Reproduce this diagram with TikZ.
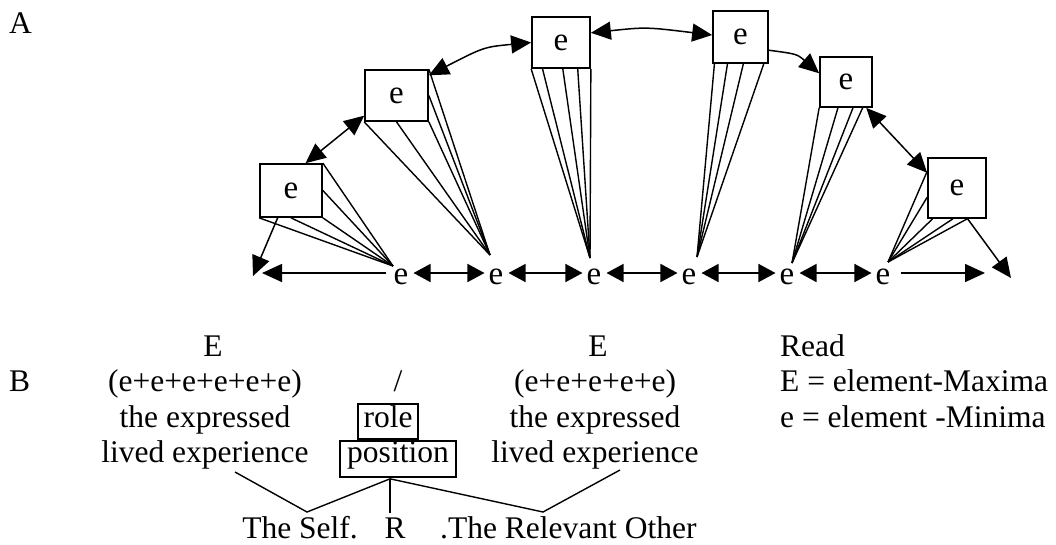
\documentclass[tikz,border=0pt]{standalone}
\usepackage{fontspec}
\setmainfont{Liberation Serif}
\usetikzlibrary{arrows.meta,calc}

\begin{document}
\begin{tikzpicture}[x=1pt,y=-1pt,
  every node/.style={font=\fontsize{31.5}{36}\selectfont, inner sep=0pt},
  txt/.style={anchor=base},
  txtl/.style={anchor=base west},
  elem/.style={anchor=base, text height=22pt, text depth=0pt, font=\fontsize{33}{36}\selectfont},
  ebox/.style={draw, line width=1.7pt, minimum width=#1, font=\fontsize{33}{36}\selectfont},
  fan/.style={line width=1.4pt},
  tip/.style={line width=1.5pt, -{Triangle[length=20pt,width=18pt]}},
  dbl/.style={line width=1.5pt, {Triangle[length=20pt,width=18pt]}-{Triangle[length=20pt,width=18pt]}},
  rowdbl/.style={line width=1.5pt, {Triangle[length=17pt,width=18pt]}-{Triangle[length=17pt,width=18pt]}}]

\useasboundingbox (0,0) rectangle (1056,544);

% part labels
\node[txtl] (labA) at (9,33) {A};
\node[txtl] (labB) at (9,391) {B};

% element-maxima boxes
\node[ebox=62pt, minimum height=53pt] (b1) at (291,190.5) {e};
\node[ebox=63pt, minimum height=51pt] (b2) at (396.5,95.5) {e};
\node[ebox=58pt, minimum height=51pt] (b3) at (561,42.5) {e};
\node[ebox=55pt, minimum height=52pt] (b4) at (740.5,37) {e};
\node[ebox=52pt, minimum height=50pt] (b5) at (846,82) {e};
\node[ebox=58pt, minimum height=60pt] (b6) at (957,188) {e};

% element-minima row
\node[elem] (e1) at (401,284) {e};
\node[elem] (e2) at (496,284) {e};
\node[elem] (e3) at (594,284) {e};
\node[elem] (e4) at (689,284) {e};
\node[elem] (e5) at (787,284) {e};
\node[elem] (e6) at (883,284) {e};

% points where the fans meet
\coordinate (f1) at (393,266);
\coordinate (f2) at (490,255);
\coordinate (f3) at (590,258);
\coordinate (f4) at (697,257);
\coordinate (f5) at (792,263);
\coordinate (f6) at (888,262);

% fans
\foreach \a in {south west, south, south east, east, north east}
  \draw[fan] (b1.\a) -- (f1);
\foreach \a in {south west, south, south east, east, north east}
  \draw[fan] (b2.\a) -- (f2);
\foreach \t in {0,.19,.53,.78,1}
  \draw[fan] ($(b3.south west)!\t!(b3.south east)$) -- (f3);
\foreach \t in {.04,.27,.55,.91}
  \draw[fan] ($(b4.south west)!\t!(b4.south east)$) -- (f4);
\foreach \t in {0,.35,.63,.81}
  \draw[fan] ($(b5.south west)!\t!(b5.south east)$) -- (f5);
\foreach \t in {.23,.65}
  \draw[fan] ($(b6.north west)!\t!(b6.south west)$) -- (f6);
\foreach \t in {.09,.43,.67}
  \draw[fan] ($(b6.south west)!\t!(b6.south east)$) -- (f6);

% arrows between the boxes
\draw[dbl] (b1.62) -- (b2.212);
\draw[dbl] (b2.32) .. controls (484,47) .. (b3.west);
\draw[dbl] (b3.18) .. controls (646,27) .. (b4.176);
\draw[tip] (b4.-25) .. controls (797,54) .. (b5.162);
\draw[dbl] (b5.-52) -- (b6.153);

% outward arrows at both ends
\coordinate (a1) at (253,276);
\coordinate (a6) at (1011,278);
\draw[tip] (b1.244) -- (a1);
\draw[tip] (b6.-71) -- (a6);

\coordinate (lend) at (262,273);
\coordinate (rend) at (985,273);
\draw[tip, shorten <=7pt] (e1.west) -- (lend);
\draw[tip, shorten <=10pt] (e6.east) -- (rend);

% arrows along the row
\foreach \i/\j in {e1/e2, e2/e3, e3/e4, e4/e5, e5/e6}
  \draw[rowdbl, shorten <=5pt, shorten >=4pt] (\i.east) -- (\j.west);

% part B, first column
\node[txt] (cE1) at (213,356) {E};
\node[txt] (cS1) at (205,391) {(e+e+e+e+e+e)};
\node[txt] (cT1) at (205,427) {the expressed};
\node[txt] (cL1) at (205,462) {lived experience};

% middle column
\node[txt] (slash) at (398,391) {/};
\node[draw, line width=1.6pt, anchor=base, text height=23pt, text depth=12pt,
      minimum width=60pt] (role) at (388,427) {role};
\node[draw, line width=1.6pt, anchor=base, text height=21pt, text depth=15pt,
      minimum width=116pt] (pos) at (398,462) {position};

% third column
\node[txt] (cE3) at (598,356) {E};
\node[txt] (cS3) at (595,391) {(e+e+e+e+e)};
\node[txt] (cT3) at (595,427) {the expressed};
\node[txt] (cL3) at (595,462) {lived experience};

% key
\node[txtl] (read) at (780,356) {Read};
\node[txtl] (keyE) at (780,391) {E = element-Maxima};
\node[txtl] (keye) at (780,427) {e = element -Minima};

% bottom line
\node[txt] (self) at (300,538) {The Self.};
\node[txt] (rr) at (395,538) {R};
\node[txtl] (other) at (440,538) {.The Relevant Other};

% connecting lines
\coordinate (s1) at ($(cL1.base)+(30,10)$);
\coordinate (s3) at ($(cL3.base)+(25,8)$);
\coordinate (j1) at ($(self.base)+(7,-26)$);
\coordinate (j2) at ($(pos.south)+(-8,1)$);
\coordinate (j3) at ($(rr.base)+(-5,-25)$);
\coordinate (j4) at ($(other.base west)+(103,-26)$);
\draw[fan] (s1) -- (j1) -- (j2) -- (j4) -- (s3);
\draw[fan] (j2) -- (j3);

\end{tikzpicture}
\end{document}
